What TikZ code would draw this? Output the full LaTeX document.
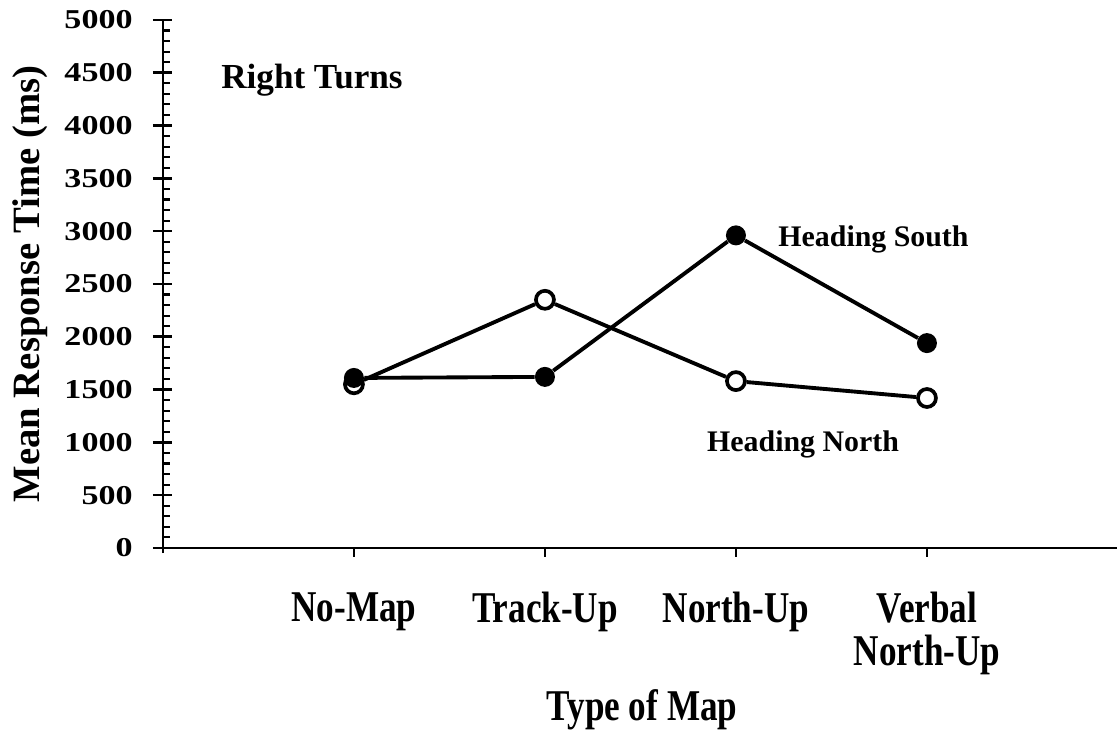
\documentclass[tikz,border=0pt]{standalone}
\usepackage{fontspec}
\setmainfont{Liberation Serif}
\newfontfamily\widefont{Liberation Serif}[FakeStretch=1.25]
\newfontfamily\narrowfont{Liberation Serif}[FakeStretch=0.8]
\usetikzlibrary{positioning}

\begin{document}
\begin{tikzpicture}[x=3.82cm,y=2.112cm,
    southpt/.style={circle,fill=black,inner sep=0pt,minimum size=0.4cm},
    northpt/.style={circle,draw=black,fill=white,line width=2.1pt,inner sep=0pt,minimum size=0.36cm},
    dataline/.style={line width=2.2pt},
    ticklab/.style={anchor=east,inner sep=0pt,font=\widefont\bfseries\fontsize{15.5}{18}\selectfont},
    catlab/.style={anchor=north,align=center,inner sep=0pt,font=\narrowfont\bfseries\fontsize{25}{24}\selectfont}]
  \useasboundingbox (-0.853,-1.742) rectangle (4.995,5.189);
  % axes and ticks
  \draw[line width=1.5pt] (0,-0.05)--(0,5);
  \draw[line width=1.5pt] (0,0)--(4.995,0);
  \foreach \v in {100,200,...,4900} {\draw[line width=1.2pt] (0,\v/1000)--(0.037,\v/1000);}
  \foreach \v in {0,500,...,5000} {\draw[line width=1.5pt] (-0.052,\v/1000)--(0.047,\v/1000);
      \node[ticklab] (t\v) at (-0.157,\v/1000) {\v};}
  \foreach \x in {1,...,5} {\draw[line width=1.5pt] (\x,0)--(\x,-0.085);}
  % data points
  \node[northpt] (n1) at (1,1.55) {};
  \node[northpt] (n2) at (2,2.35) {};
  \node[northpt] (n3) at (3,1.58) {};
  \node[northpt] (n4) at (4,1.42) {};
  \node[southpt] (s1) at (1,1.61) {};
  \node[southpt] (s2) at (2,1.62) {};
  \node[southpt] (s3) at (3,2.96) {};
  \node[southpt] (s4) at (4,1.94) {};
  \draw[dataline] (n1)--(n2)--(n3)--(n4);
  \draw[dataline] (s1)--(s2)--(s3)--(s4);
  % labels
  \node[anchor=west,font=\bfseries\fontsize{17}{20}\selectfont] (south) at (3.19,2.917) {Heading South};
  \node[anchor=west,font=\bfseries\fontsize{17}{20}\selectfont] (north) at (2.817,0.985) {Heading North};
  \node[anchor=west,font=\bfseries\fontsize{20}{24}\selectfont] (turns) at (0.273,4.432) {Right Turns};
  \node[rotate=90,font=\bfseries\fontsize{22}{26}\selectfont] (ylab) at (-0.696,2.5) {Mean Response Time (ms)};
  \foreach \x/\t in {1/No-Map,2/Track-Up,3/North-Up,4/{Verbal\\North-Up}} {\node[catlab] (c\x) at (\x,-0.417) {\t};}
  \node[font=\narrowfont\bfseries\fontsize{25}{30}\selectfont] (xlab) at (2.508,-1.534) {Type of Map};
\end{tikzpicture}
\end{document}
